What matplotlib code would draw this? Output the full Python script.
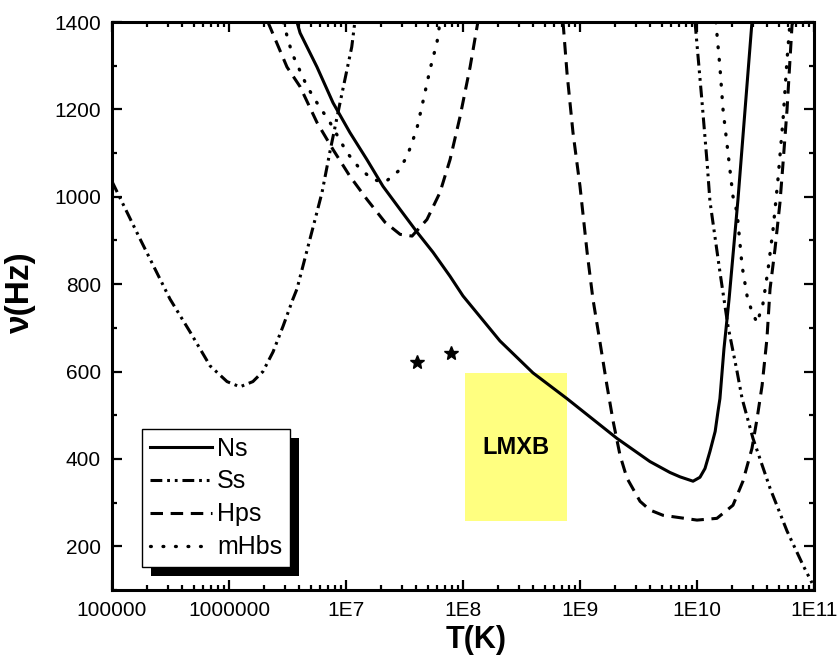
import matplotlib
matplotlib.use("Agg")
import matplotlib.pyplot as plt
from matplotlib.patches import Rectangle
from matplotlib.ticker import FixedLocator, FixedFormatter, LogLocator, NullFormatter, MultipleLocator

plt.rcParams['font.family'] = ['Liberation Sans', 'DejaVu Sans']
plt.rcParams['lines.scale_dashes'] = False

# Ns (solid)
ns_T = [3.81e6, 4.05e6, 5.65e6, 7.75e6, 1.08e7, 1.51e7, 2.07e7, 2.90e7, 4.05e7, 5.54e7,
        7.75e7, 1.0e8, 2.07e8, 3.96e8, 7.74e8, 2.07e9, 3.96e9, 5.87e9, 7.16e9, 9.25e9,
        1.06e10, 1.17e10, 1.29e10, 1.43e10, 1.51e10, 1.57e10, 1.70e10, 1.88e10, 2.24e10, 2.95e10]
ns_v = [1400, 1375, 1297, 1215, 1147, 1085, 1024, 971, 919, 873,
        818, 773, 670, 597, 538, 447, 394, 369, 359, 349,
        358, 378, 417, 463, 508, 538, 652, 766, 994, 1400]

# Ss (dash-dot-dot), left branch and right branch
ss1_T = [1e5, 1.74e5, 3.13e5, 4.64e5, 6.89e5, 9.62e5, 1.24e6, 1.60e6, 1.95e6, 2.38e6,
         2.90e6, 3.52e6, 3.81e6, 5.44e6, 6.24e6, 7.30e6, 8.89e6, 1.12e7, 1.19e7]
ss1_v = [1035, 903, 766, 691, 613, 577, 565, 577, 600, 645,
         704, 766, 789, 948, 1010, 1104, 1215, 1343, 1400]
ss2_T = [9.62e9, 1.10e10, 1.22e10, 1.29e10, 1.57e10, 1.84e10, 2.20e10, 2.43e10, 3.01e10,
         4.21e10, 5.88e10, 8.05e10, 9.62e10]
ss2_v = [1400, 1222, 1078, 990, 828, 704, 600, 538, 447,
         333, 235, 157, 116]

# Hps (dashed)
hp1_T = [2.15e6, 3.13e6, 4.05e6, 5.65e6, 7.75e6, 1.08e7, 1.51e7, 2.15e7, 2.90e7, 3.67e7,
         4.92e7, 6.36e7, 7.75e7, 9.43e7, 1.15e8, 1.34e8]
hp1_v = [1400, 1297, 1252, 1170, 1108, 1047, 994, 942, 914, 910,
         948, 1010, 1085, 1183, 1297, 1400]
hp2_T = [7.16e8, 7.74e8, 8.71e8, 1.0e9, 1.15e9, 1.29e9, 1.48e9, 1.70e9, 1.92e9, 2.20e9,
         2.52e9, 3.26e9, 3.96e9, 5.12e9, 1.0e10, 1.48e10, 2.03e10, 2.47e10, 2.95e10, 3.26e10,
         3.60e10, 3.96e10, 4.21e10, 4.64e10, 5.12e10, 5.44e10, 5.88e10, 6.49e10, 6.62e10]
hp2_v = [1400, 1284, 1147, 1024, 873, 766, 668, 568, 486, 408,
         356, 303, 283, 271, 260, 264, 294, 349, 424, 492,
         568, 675, 789, 880, 987, 1078, 1199, 1393, 1400]

# mHbs (dotted)
mh1_T = [2.90e6, 3.45e6, 4.46e6, 5.22e6, 7.30e6, 1.02e7, 1.27e7, 1.67e7, 2.15e7, 2.78e7,
         3.32e7, 3.67e7, 4.05e7, 4.55e7, 5.22e7, 6.00e7, 6.36e7]
mh1_v = [1400, 1329, 1263, 1229, 1170, 1101, 1069, 1040, 1033, 1058,
         1092, 1124, 1158, 1218, 1291, 1354, 1400]
mh2_T = [1.45e10, 1.57e10, 1.67e10, 1.84e10, 2.03e10, 2.20e10, 2.43e10, 2.68e10, 2.90e10,
         3.26e10, 3.66e10, 4.05e10, 4.47e10, 4.92e10, 5.44e10, 5.88e10, 6.24e10]
mh2_v = [1400, 1297, 1199, 1101, 1001, 964, 841, 773, 743,
         711, 755, 834, 926, 1040, 1177, 1313, 1400]

# observed sources (stars) and LMXB region
star_T = [4.05e7, 7.9e7]
star_v = [622, 643]
lmxb_T = [1.04e8, 7.7e8]
lmxb_v = [257, 597]

xticks = [1e5, 1e6, 1e7, 1e8, 1e9, 1e10, 1e11]
xlabels = ['100000', '1000000', '1E7', '1E8', '1E9', '1E10', '1E11']

fig = plt.figure(figsize=(8.39, 6.69), dpi=100)
ax = fig.add_axes([112/839, 1 - 590/669, 702/839, 568/669])

lw = 2.2
ss_dash = (8.5, 3.5, 2, 3.5, 2, 3.5)
hp_dash = (9, 5.5)
mh_dash = (0.6, 8.4)

ax.add_patch(Rectangle((lmxb_T[0], lmxb_v[0]), lmxb_T[1] - lmxb_T[0], lmxb_v[1] - lmxb_v[0],
                       facecolor='#ffff80', edgecolor='none', zorder=1))
ax.text((lmxb_T[0] * lmxb_T[1]) ** 0.5, (lmxb_v[0] + lmxb_v[1]) / 2, 'LMXB',
        ha='center', va='center', fontsize=17, fontweight='bold', zorder=2)

ax.plot(ns_T, ns_v, color='k', lw=lw, ls='-', label='Ns', zorder=3)
ax.plot(ss1_T, ss1_v, color='k', lw=lw, dashes=ss_dash, label='Ss', zorder=3)
ax.plot(ss2_T, ss2_v, color='k', lw=lw, dashes=ss_dash, zorder=3)
ax.plot(hp1_T, hp1_v, color='k', lw=lw, dashes=hp_dash, label='Hps', zorder=3)
ax.plot(hp2_T, hp2_v, color='k', lw=lw, dashes=hp_dash, zorder=3)
ax.plot(mh1_T, mh1_v, color='k', lw=2.4, dashes=mh_dash, dash_capstyle='round',
        label='mHbs', zorder=3)
ax.plot(mh2_T, mh2_v, color='k', lw=2.4, dashes=mh_dash, dash_capstyle='round', zorder=3)
ax.plot(star_T, star_v, ls='none', marker='*', color='k', markersize=10, zorder=3)

ax.set_xscale('log')
ax.set_xlim(1e5, 1e11)
ax.set_ylim(100, 1400)
ax.xaxis.set_major_locator(FixedLocator(xticks))
ax.xaxis.set_major_formatter(FixedFormatter(xlabels))
ax.xaxis.set_minor_locator(LogLocator(base=10, subs=range(2, 10), numticks=100))
ax.xaxis.set_minor_formatter(NullFormatter())
ax.yaxis.set_major_locator(FixedLocator([200, 400, 600, 800, 1000, 1200, 1400]))
ax.yaxis.set_minor_locator(MultipleLocator(100))

ax.tick_params(which='both', direction='in', top=True, right=True, width=1.6, labelsize=15)
ax.tick_params(which='major', length=7)
ax.tick_params(which='minor', length=3.5)
ax.tick_params(axis='x', pad=8)
ax.tick_params(axis='y', pad=8)
for s in ax.spines.values():
    s.set_linewidth(2.2)

ax.set_xlabel('T(K)', fontsize=22, fontweight='bold')
ax.xaxis.set_label_coords(0.518, -0.062)
ax.set_ylabel('ν(Hz)', fontsize=24, fontweight='bold')
ax.yaxis.set_label_coords(-0.108, 0.525)

leg = ax.legend(loc='lower left', bbox_to_anchor=(30/702, 23/568), borderaxespad=0,
                fontsize=18, fancybox=False, framealpha=1, edgecolor='k',
                handlelength=2.5, handletextpad=0.2, labelspacing=0.36, borderpad=0.3)
leg.get_frame().set_linewidth(1)
leg.set_zorder(5)

# black drop shadow behind the legend box
fig.canvas.draw()
bb = leg.get_window_extent()
inv = ax.transAxes.inverted()
(x0, y0), (x1, y1) = inv.transform([(bb.x0 + 9, bb.y0 - 9), (bb.x1 + 9, bb.y1 - 9)])
ax.add_patch(Rectangle((x0, y0), x1 - x0, y1 - y0, transform=ax.transAxes,
                       facecolor='k', edgecolor='none', clip_on=False, zorder=4.9))

fig.savefig('out.png', dpi=100)
